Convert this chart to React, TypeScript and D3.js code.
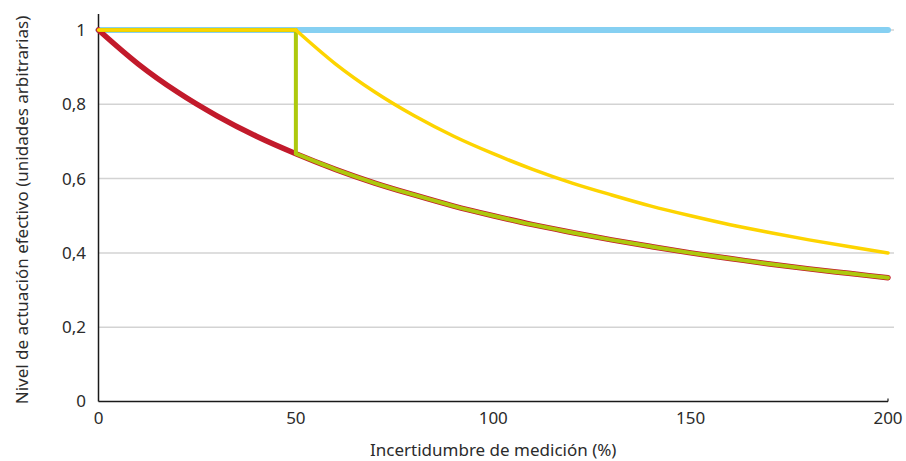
import React from "react";
import * as d3 from "d3";

const xValues = [0, 10, 20, 30, 40, 50, 60, 70, 80, 90, 100, 110, 120, 130, 140, 150, 160, 170, 180, 190, 200];
const redValues = [1, 0.909, 0.833, 0.769, 0.714, 0.667, 0.625, 0.588, 0.556, 0.526, 0.5, 0.476, 0.455, 0.435, 0.417, 0.4, 0.385, 0.37, 0.357, 0.345, 0.333];
const yellowValues = [1, 1, 1, 1, 1, 1, 0.909, 0.833, 0.769, 0.714, 0.667, 0.625, 0.588, 0.556, 0.526, 0.5, 0.476, 0.455, 0.435, 0.417, 0.4];
const blueValues = [1, 1];
const blueX = [0, 200];
const switchX = 50;
const yTicks = [0, 0.2, 0.4, 0.6, 0.8, 1];
const yTickLabels = ["0", "0,2", "0,4", "0,6", "0,8", "1"];
const xTicks = [0, 50, 100, 150, 200];
const xTitle = "Incertidumbre de medición (%)";
const yTitle = "Nivel de actuación efectivo (unidades arbitrarias)";

const W = 906;
const H = 461;
const FONT = "'Noto Sans', 'Open Sans', sans-serif";
const TEXT = "#2b2b2b";

export default function App() {
  const x = d3.scaleLinear().domain([0, 200]).range([98.5, 888]);
  const y = d3.scaleLinear().domain([0, 1]).range([401.5, 30]);

  type P = [number, number];
  const curve = d3.line<P>().x((d) => x(d[0])).y((d) => y(d[1])).curve(d3.curveMonotoneX);
  const lin = d3.line<P>().x((d) => x(d[0])).y((d) => y(d[1]));

  const redPts: P[] = xValues.map((v, i) => [v, redValues[i]]);
  const yellowAll: P[] = xValues.map((v, i) => [v, yellowValues[i]]);
  const yellowFlat = yellowAll.filter((d) => d[0] <= switchX);
  const yellowCurve = yellowAll.filter((d) => d[0] >= switchX);
  const redAfter = redPts.filter((d) => d[0] >= switchX);
  const redAtSwitch = redValues[xValues.indexOf(switchX)];
  const greenFlat: P[] = [[0, 1], [switchX, 1], [switchX, redAtSwitch]];
  const bluePts: P[] = blueX.map((v, i) => [v, blueValues[i]]);

  const x0 = x(0);
  const x1 = x(200);

  return (
    <svg width={W} height={H} style={{ position: "absolute", left: 0, top: 0, background: "#fff" }}>
      {/* grid */}
      {yTicks.filter((t) => t > 0).map((t) => (
        <line key={t} x1={x0} x2={894} y1={y(t)} y2={y(t)} stroke="#d3d3d3" strokeWidth={1.5} />
      ))}
      {/* axes */}
      <line x1={x0} x2={x0} y1={14} y2={y(0)} stroke="#1a1a1a" strokeWidth={1.5} />
      <line x1={x0} x2={x1} y1={y(0)} y2={y(0)} stroke="#1a1a1a" strokeWidth={1.5} />
      <line x1={x1} x2={x1} y1={y(0)} y2={y(0) - 3} stroke="#1a1a1a" strokeWidth={1.2} />
      {/* y tick labels */}
      {yTicks.map((t, i) => (
        <text key={t} x={86} y={y(t)} dy="0.35em" textAnchor="end" fontFamily={FONT} fontSize={17} fill={TEXT}>
          {yTickLabels[i]}
        </text>
      ))}
      {/* x tick labels */}
      {xTicks.map((t) => (
        <text key={t} x={x(t)} y={424} textAnchor="middle" fontFamily={FONT} fontSize={17} fill={TEXT}>
          {String(t)}
        </text>
      ))}
      <text x={(x0 + x1) / 2} y={456} textAnchor="middle" fontFamily={FONT} fontSize={17} fill={TEXT}>
        {xTitle}
      </text>
      <text
        transform={`translate(28,210) rotate(-90)`}
        textAnchor="middle"
        fontFamily={FONT}
        fontSize={17}
        fill={TEXT}
      >
        {yTitle}
      </text>
      {/* series */}
      <path d={lin(bluePts) || ""} fill="none" stroke="#86d0f2" strokeWidth={6} strokeLinecap="round" />
      <path d={curve(redPts) || ""} fill="none" stroke="#c21a2b" strokeWidth={5.5} strokeLinecap="round" />
      <path d={lin(greenFlat) || ""} fill="none" stroke="#adc90d" strokeWidth={4} strokeLinecap="butt" strokeLinejoin="round" />
      <path d={curve(redAfter) || ""} fill="none" stroke="#adc90d" strokeWidth={4} strokeLinecap="round" />
      <path d={lin(yellowFlat) || ""} fill="none" stroke="#fdd400" strokeWidth={3.5} strokeLinecap="round" />
      <path d={curve(yellowCurve) || ""} fill="none" stroke="#fdd400" strokeWidth={3.5} strokeLinecap="round" />
    </svg>
  );
}
